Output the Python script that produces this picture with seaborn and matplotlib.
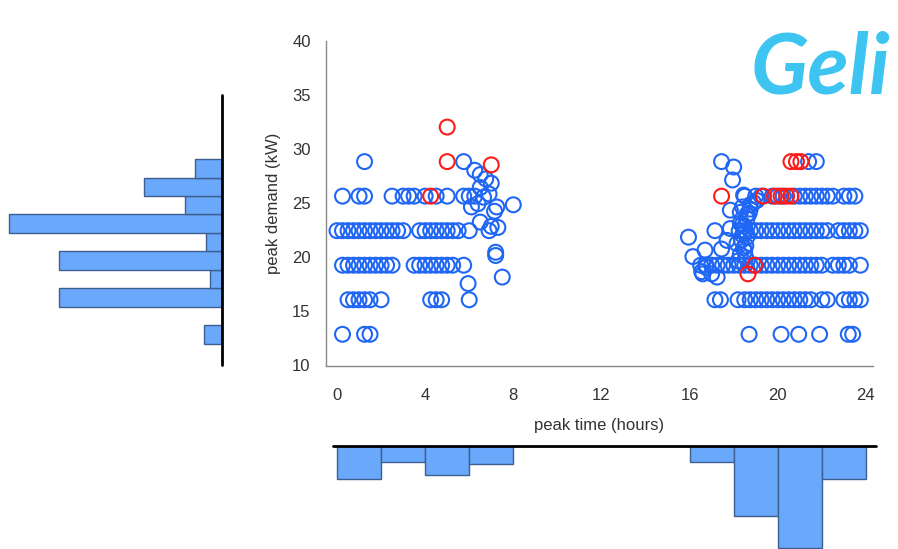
import pandas as pd
import numpy as np
import matplotlib
matplotlib.use("Agg")
import matplotlib.pyplot as plt
import seaborn as sns

# peak time (hours) / peak demand (kW), row by row
morning_rows = {
    28.8: [1.25, 5.75],
    25.6: [0.25, 1.0, 1.25, 2.5, 3.0, 3.25, 3.5, 4.0, 4.5, 5.0, 5.75, 6.0, 6.25],
    22.4: [0.0, 0.25, 0.5, 0.75, 1.0, 1.25, 1.5, 1.75, 2.0, 2.25, 2.5, 2.75, 3.0,
           3.75, 4.0, 4.25, 4.5, 4.75, 5.0, 5.25, 5.5, 6.0],
    19.2: [0.25, 0.5, 0.75, 1.0, 1.25, 1.5, 1.75, 2.0, 2.25, 2.5, 3.5, 3.75, 4.0,
           4.25, 4.5, 4.75, 5.0, 5.25, 5.75],
    16.0: [0.5, 0.75, 1.0, 1.25, 1.5, 2.0, 4.25, 4.5, 4.75, 6.0],
    12.8: [0.25, 1.25, 1.5],
}
evening_rows = {
    28.8: [21.4, 21.75],
    25.6: [18.5, 19.0, 19.25, 19.75, 20.0, 20.25, 20.75, 21.0, 21.25, 21.5, 21.75,
           22.0, 22.25, 22.5, 23.0, 23.25, 23.5],
    22.4: [18.25, 18.5, 18.75, 19.0, 19.25, 19.5, 19.75, 20.0, 20.25, 20.5, 20.75,
           21.0, 21.25, 21.5, 21.75, 22.0, 22.25, 22.75, 23.0, 23.25, 23.5, 23.75],
    19.2: [16.5, 16.75, 17.0, 17.25, 17.5, 17.75, 18.0, 18.25, 18.5, 18.75, 19.0,
           19.25, 19.5, 19.75, 20.0, 20.25, 20.5, 20.75, 21.0, 21.25, 21.5, 21.75,
           22.0, 22.5, 22.75, 23.0, 23.25, 23.75],
    16.0: [17.15, 17.4, 18.2, 18.5, 18.75, 19.0, 19.25, 19.5, 19.75, 20.0, 20.25,
           20.5, 20.75, 21.0, 21.25, 21.5, 22.0, 22.25, 23.0, 23.25, 23.5, 23.75],
    12.8: [18.7, 20.15, 20.95, 21.9, 23.2, 23.4],
}
# transition points (morning ramp-down, evening ramp-up)
ramp_time = [6.25, 6.5, 6.75, 7.0, 6.5, 6.9, 6.1, 6.4, 6.65, 7.25, 7.15, 8.0, 6.5,
             7.0, 7.3, 6.9, 7.2, 7.2, 7.5, 5.95,
             17.45, 18.0, 17.95, 18.45, 17.85, 18.3, 18.75, 19.05, 15.95, 17.15,
             17.85, 18.3, 18.6, 16.15, 16.7, 17.45, 17.7, 18.15, 18.6, 16.55, 16.75,
             17.25, 17.0, 16.6, 18.4, 18.5, 18.55, 18.5, 18.7, 18.4, 18.3, 18.45,
             18.35, 18.5, 18.4, 18.6, 18.75, 18.9, 18.2, 18.55]
ramp_demand = [28.0, 27.6, 27.2, 26.8, 26.4, 25.8, 24.6, 24.9, 25.5, 24.6, 24.2, 24.8,
               23.2, 22.8, 22.7, 22.4, 20.4, 20.1, 18.1, 17.5,
               28.8, 28.3, 27.1, 25.7, 24.3, 24.1, 24.8, 25.2, 21.8, 22.4,
               22.6, 23.1, 23.5, 20.0, 20.6, 20.7, 21.5, 21.2, 21.8, 18.6, 19.0,
               18.1, 18.4, 18.4, 22.0, 20.5, 19.9, 22.8, 24.0, 24.6, 20.2, 20.8,
               21.5, 22.2, 23.0, 23.9, 24.4, 25.0, 19.6, 21.0]
# highlighted (red) days
red_time = [5.0, 5.0, 7.0, 4.25, 17.45, 19.35, 19.85, 20.15, 20.4, 20.6, 20.6, 20.85,
            21.05, 18.95, 18.65]
red_demand = [32.0, 28.8, 28.5, 25.6, 25.6, 25.6, 25.6, 25.6, 25.6, 25.6, 28.8, 28.8,
              28.8, 19.2, 18.4]

# marginal histograms
time_edges = [0, 2, 4, 6, 8, 10, 12, 14, 16, 18, 20, 22, 24]
time_counts = [33, 16, 29, 18, 0, 0, 0, 0, 16, 70, 102, 33]
demand_edges = [12.0, 13.6, 15.2, 16.8, 18.4, 20.0, 21.6, 23.2, 24.8, 26.4, 28.0]
demand_counts = [10, 0, 92, 7, 92, 9, 120, 21, 44, 15]

rows = []
for group in (morning_rows, evening_rows):
    for d, ts in group.items():
        rows += [(t, d) for t in ts]
rows += list(zip(ramp_time, ramp_demand))
blue_df = pd.DataFrame(rows, columns=["time", "demand"])
red_df = pd.DataFrame({"time": red_time, "demand": red_demand})

sns.set_style("white")
plt.rcParams["font.family"] = ["Liberation Sans", "DejaVu Sans"]

BLUE = "#1f66f5"
RED = "#ff1a1a"
BAR = "#6aa8fc"
BAR_EDGE = "#3d5f8f"

fig = plt.figure(figsize=(8.98, 5.49), dpi=100)
ax = fig.add_axes([0.3630, 0.3333, 0.6091, 0.5925])
ax_left = fig.add_axes([0.0, 0.3352, 0.2472, 0.4918])
ax_bot = fig.add_axes([0.3708, 0.0, 0.6047, 0.1876])

# main scatter
sns.scatterplot(data=blue_df, x="time", y="demand", ax=ax, s=115,
                facecolor="none", edgecolor=BLUE, linewidth=1.5)
sns.scatterplot(data=red_df, x="time", y="demand", ax=ax, s=115,
                facecolor="none", edgecolor=RED, linewidth=1.5)
ax.set_xlim(-0.5, 24.32)
ax.set_ylim(9.86, 40)
ax.set_xticks(range(0, 25, 4))
ax.set_yticks(range(10, 41, 5))
ax.set_xlabel("peak time (hours)", fontsize=12, color="#333333", labelpad=10.5)
ax.set_ylabel("peak demand (kW)", fontsize=12, color="#333333", labelpad=8)
ax.tick_params(axis="both", length=5, width=1, color="#777777",
               labelsize=12, labelcolor="#333333", direction="out")
ax.tick_params(axis="x", pad=11)
ax.tick_params(axis="y", pad=6)
for side in ("top", "right"):
    ax.spines[side].set_visible(False)
for side in ("left", "bottom"):
    ax.spines[side].set_color("#888888")
    ax.spines[side].set_linewidth(1)

# left marginal: demand histogram growing leftwards
demand_mid = [(a + b) / 2 for a, b in zip(demand_edges[:-1], demand_edges[1:])]
sns.histplot(y=demand_mid, weights=demand_counts, bins=demand_edges, ax=ax_left,
             color=BAR, edgecolor=BAR_EDGE, linewidth=1, alpha=1)
ax_left.set_xlim(125.1, 0)
ax_left.set_ylim(10.18, 33.54)
ax_left.set_axis_off()
ax_left.axvline(0, color="black", linewidth=2, clip_on=False)

# bottom marginal: time histogram hanging down
time_mid = [(a + b) / 2 for a, b in zip(time_edges[:-1], time_edges[1:])]
sns.histplot(x=time_mid, weights=time_counts, bins=time_edges, ax=ax_bot,
             color=BAR, edgecolor=BAR_EDGE, linewidth=1, alpha=1)
ax_bot.set_xlim(-0.18, 24.46)
ax_bot.set_ylim(103, 0)
ax_bot.set_axis_off()
ax_bot.axhline(0, color="black", linewidth=2, clip_on=False)

# logo in the corner
fig.text(0.836, 0.83, "Geli", fontsize=61, fontweight="bold", style="italic",
         color="#3ec4f0", family=["Lato", "DejaVu Sans"], va="baseline")

fig.savefig("out.png", dpi=100)
